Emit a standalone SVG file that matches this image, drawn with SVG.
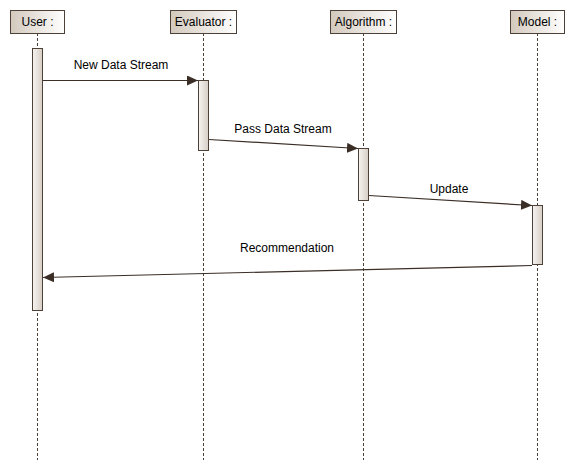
<svg xmlns="http://www.w3.org/2000/svg" width="575" height="471" viewBox="0 0 575 471">
<defs>
<linearGradient id="hd" x1="0" y1="0" x2="1" y2="0">
<stop offset="0" stop-color="#d3c9bd"/>
<stop offset="1" stop-color="#ffffff"/>
</linearGradient>
<linearGradient id="act" x1="0" y1="0" x2="1" y2="0">
<stop offset="0" stop-color="#f6f4f1"/>
<stop offset="1" stop-color="#d6cec5"/>
</linearGradient>
<marker id="ah" markerWidth="12" markerHeight="10" refX="11" refY="5" orient="auto" markerUnits="userSpaceOnUse">
<path d="M0,0 L11,5 L0,10 Z" fill="#3a2e26"/>
</marker>
</defs>
<style>
.hd{fill:url(#hd);stroke:#4d4036;stroke-width:1}
.act{fill:url(#act);stroke:#4d4036;stroke-width:1}
.life{stroke:#4d4036;stroke-width:1;stroke-dasharray:3,2;fill:none}
.msg{stroke:#3a2e26;stroke-width:1.2;fill:none;marker-end:url(#ah)}
text{font-family:"Liberation Sans",Arial,sans-serif;font-size:12px;fill:#000}
.c{text-anchor:middle}
</style>
<rect width="575" height="471" fill="#fff"/>
<g id="lifelines">
<line class="life" x1="37.5" y1="33" x2="37.5" y2="460"/>
<line class="life" x1="203.5" y1="33" x2="203.5" y2="460"/>
<line class="life" x1="363.5" y1="33" x2="363.5" y2="460"/>
<line class="life" x1="537.5" y1="33" x2="537.5" y2="460"/>
</g>
<g id="user">
<rect class="hd" x="10.5" y="10.5" width="54" height="23"/>
<text class="c" x="37.5" y="26">User :</text>
<rect class="act" x="32.5" y="48.5" width="10" height="262"/>
</g>
<g id="evaluator">
<rect class="hd" x="170.5" y="10.5" width="66" height="23"/>
<text class="c" x="203.5" y="26">Evaluator :</text>
<rect class="act" x="198.5" y="80.5" width="10" height="70"/>
</g>
<g id="algorithm">
<rect class="hd" x="330.5" y="10.5" width="66" height="23"/>
<text class="c" x="363.5" y="26">Algorithm :</text>
<rect class="act" x="358.5" y="148.5" width="10" height="52"/>
</g>
<g id="model">
<rect class="hd" x="510.5" y="10.5" width="54" height="23"/>
<text class="c" x="537.5" y="26">Model :</text>
<rect class="act" x="532.5" y="205.5" width="10" height="59"/>
</g>
<g id="connectors">
<line class="msg" x1="43" y1="80.5" x2="198" y2="80.5"/>
<text class="c" x="121" y="69">New Data Stream</text>
<line class="msg" x1="209" y1="139.5" x2="358" y2="148.5"/>
<text class="c" x="283" y="133">Pass Data Stream</text>
<line class="msg" x1="369" y1="195.5" x2="532" y2="205.5"/>
<text class="c" x="449" y="193">Update</text>
<line class="msg" x1="532" y1="265.5" x2="43" y2="277.5"/>
<text class="c" x="287" y="252">Recommendation</text>
</g>
</svg>
